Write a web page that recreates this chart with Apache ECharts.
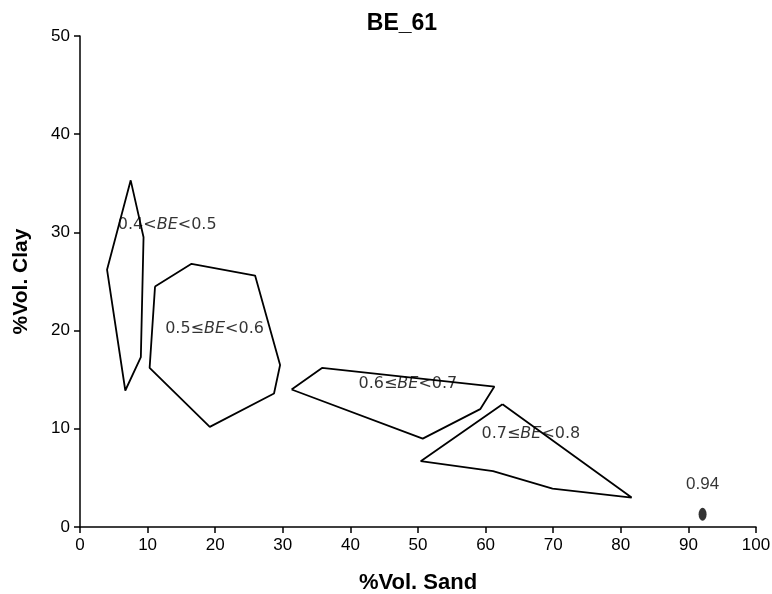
<!DOCTYPE html>
<html>
<head>
<meta charset="utf-8">
<script src="https://cdn.jsdelivr.net/npm/echarts@6/dist/echarts.min.js"></script>
<style>
  html, body { margin: 0; padding: 0; background: #fff; }
  #main { width: 772px; height: 594px; }
</style>
</head>
<body>
<div id="main"></div>
<script>
// polygons of sand/clay for each BE class (x = %sand, y = %clay)
const poly04 = [[7.5, 35.3], [9.4, 29.5], [9.0, 17.3], [6.7, 13.9], [4.0, 26.2]];
const poly05 = [[11.1, 24.5], [16.5, 26.8], [25.9, 25.6], [29.6, 16.5], [28.7, 13.6], [19.2, 10.2], [10.3, 16.2]];
const poly06 = [[31.3, 14.0], [35.8, 16.2], [61.3, 14.3], [59.2, 12.0], [50.7, 9.0]];
const poly07 = [[62.5, 12.5], [81.6, 3.0], [69.9, 3.9], [61.1, 5.7], [50.4, 6.7]];
const point094 = [[92.1, 1.3]];

// class labels
const labelText = ['0.4<|BE|<0.5', '0.5≤|BE|<0.6', '0.6≤|BE|<0.7', '0.7≤|BE|<0.8', '0.94'];
const labelX = [12.9, 19.9, 48.5, 66.7, 92.1];
const labelY = [30.8, 20.2, 14.6, 9.5, 4.3];

const close = p => p.concat([p[0]]);
const chart = echarts.init(document.getElementById('main'));
const font = 'Liberation Sans, Arial, sans-serif';

const lineStyle = { color: '#000', width: 1.8 };
const polySeries = [poly04, poly05, poly06, poly07].map(p => ({
  type: 'line',
  data: close(p),
  symbol: 'none',
  silent: true,
  lineStyle: lineStyle,
  z: 2
}));

const labelData = labelText.map((t, i) => ({
  value: [labelX[i], labelY[i]],
  label: {
    formatter: () => {
      const parts = t.split('|');
      if (parts.length === 1) return '{p|' + parts[0] + '}';
      return '{n|' + parts[0] + '}{i|' + parts[1] + '}{n|' + parts[2] + '}';
    }
  }
}));

chart.setOption({
  animation: false,
  title: {
    text: 'BE_61',
    left: 397,
    top: 7,
    textAlign: 'center',
    textStyle: { fontFamily: font, fontWeight: 'bold', fontSize: 23, color: '#000' }
  },
  grid: { left: 80, right: 16, top: 36, bottom: 67, containLabel: false, outerBoundsMode: 'none' },
  xAxis: {
    type: 'value',
    min: 0, max: 100, interval: 10,
    name: '%Vol. Sand',
    nameLocation: 'middle',
    nameGap: 45,
    nameTextStyle: { fontFamily: font, fontWeight: 'bold', fontSize: 22, color: '#000' },
    axisLine: { lineStyle: { color: '#000', width: 1.5 } },
    axisTick: { length: 6, lineStyle: { color: '#000', width: 1.5 } },
    axisLabel: { margin: 10, fontFamily: font, fontSize: 17, color: '#000' },
    splitLine: { show: false }
  },
  yAxis: {
    type: 'value',
    min: 0, max: 50, interval: 10,
    name: '%Vol. Clay',
    nameLocation: 'middle',
    nameGap: 48,
    nameTextStyle: { fontFamily: font, fontWeight: 'bold', fontSize: 21, color: '#000' },
    axisLine: { show: true, lineStyle: { color: '#000', width: 1.5 } },
    axisTick: { show: true, length: 6, lineStyle: { color: '#000', width: 1.5 } },
    axisLabel: { margin: 10, fontFamily: font, fontSize: 17, color: '#000' },
    splitLine: { show: false }
  },
  series: polySeries.concat([
    {
      type: 'scatter',
      data: point094,
      symbol: 'circle',
      symbolSize: [8, 13],
      itemStyle: { color: '#000' },
      silent: true,
      z: 3
    },
    {
      type: 'scatter',
      data: labelData,
      symbolSize: 0,
      silent: true,
      z: 4,
      label: {
        show: true,
        position: 'inside',
        color: '#000',
        rich: {
          n: { fontFamily: 'DejaVu Sans', fontSize: 16, color: '#000' },
          i: { fontFamily: 'DejaVu Sans', fontStyle: 'italic', fontSize: 16, color: '#000' },
          p: { fontFamily: font, fontSize: 17, color: '#000' }
        }
      }
    }
  ])
});
</script>
</body>
</html>
